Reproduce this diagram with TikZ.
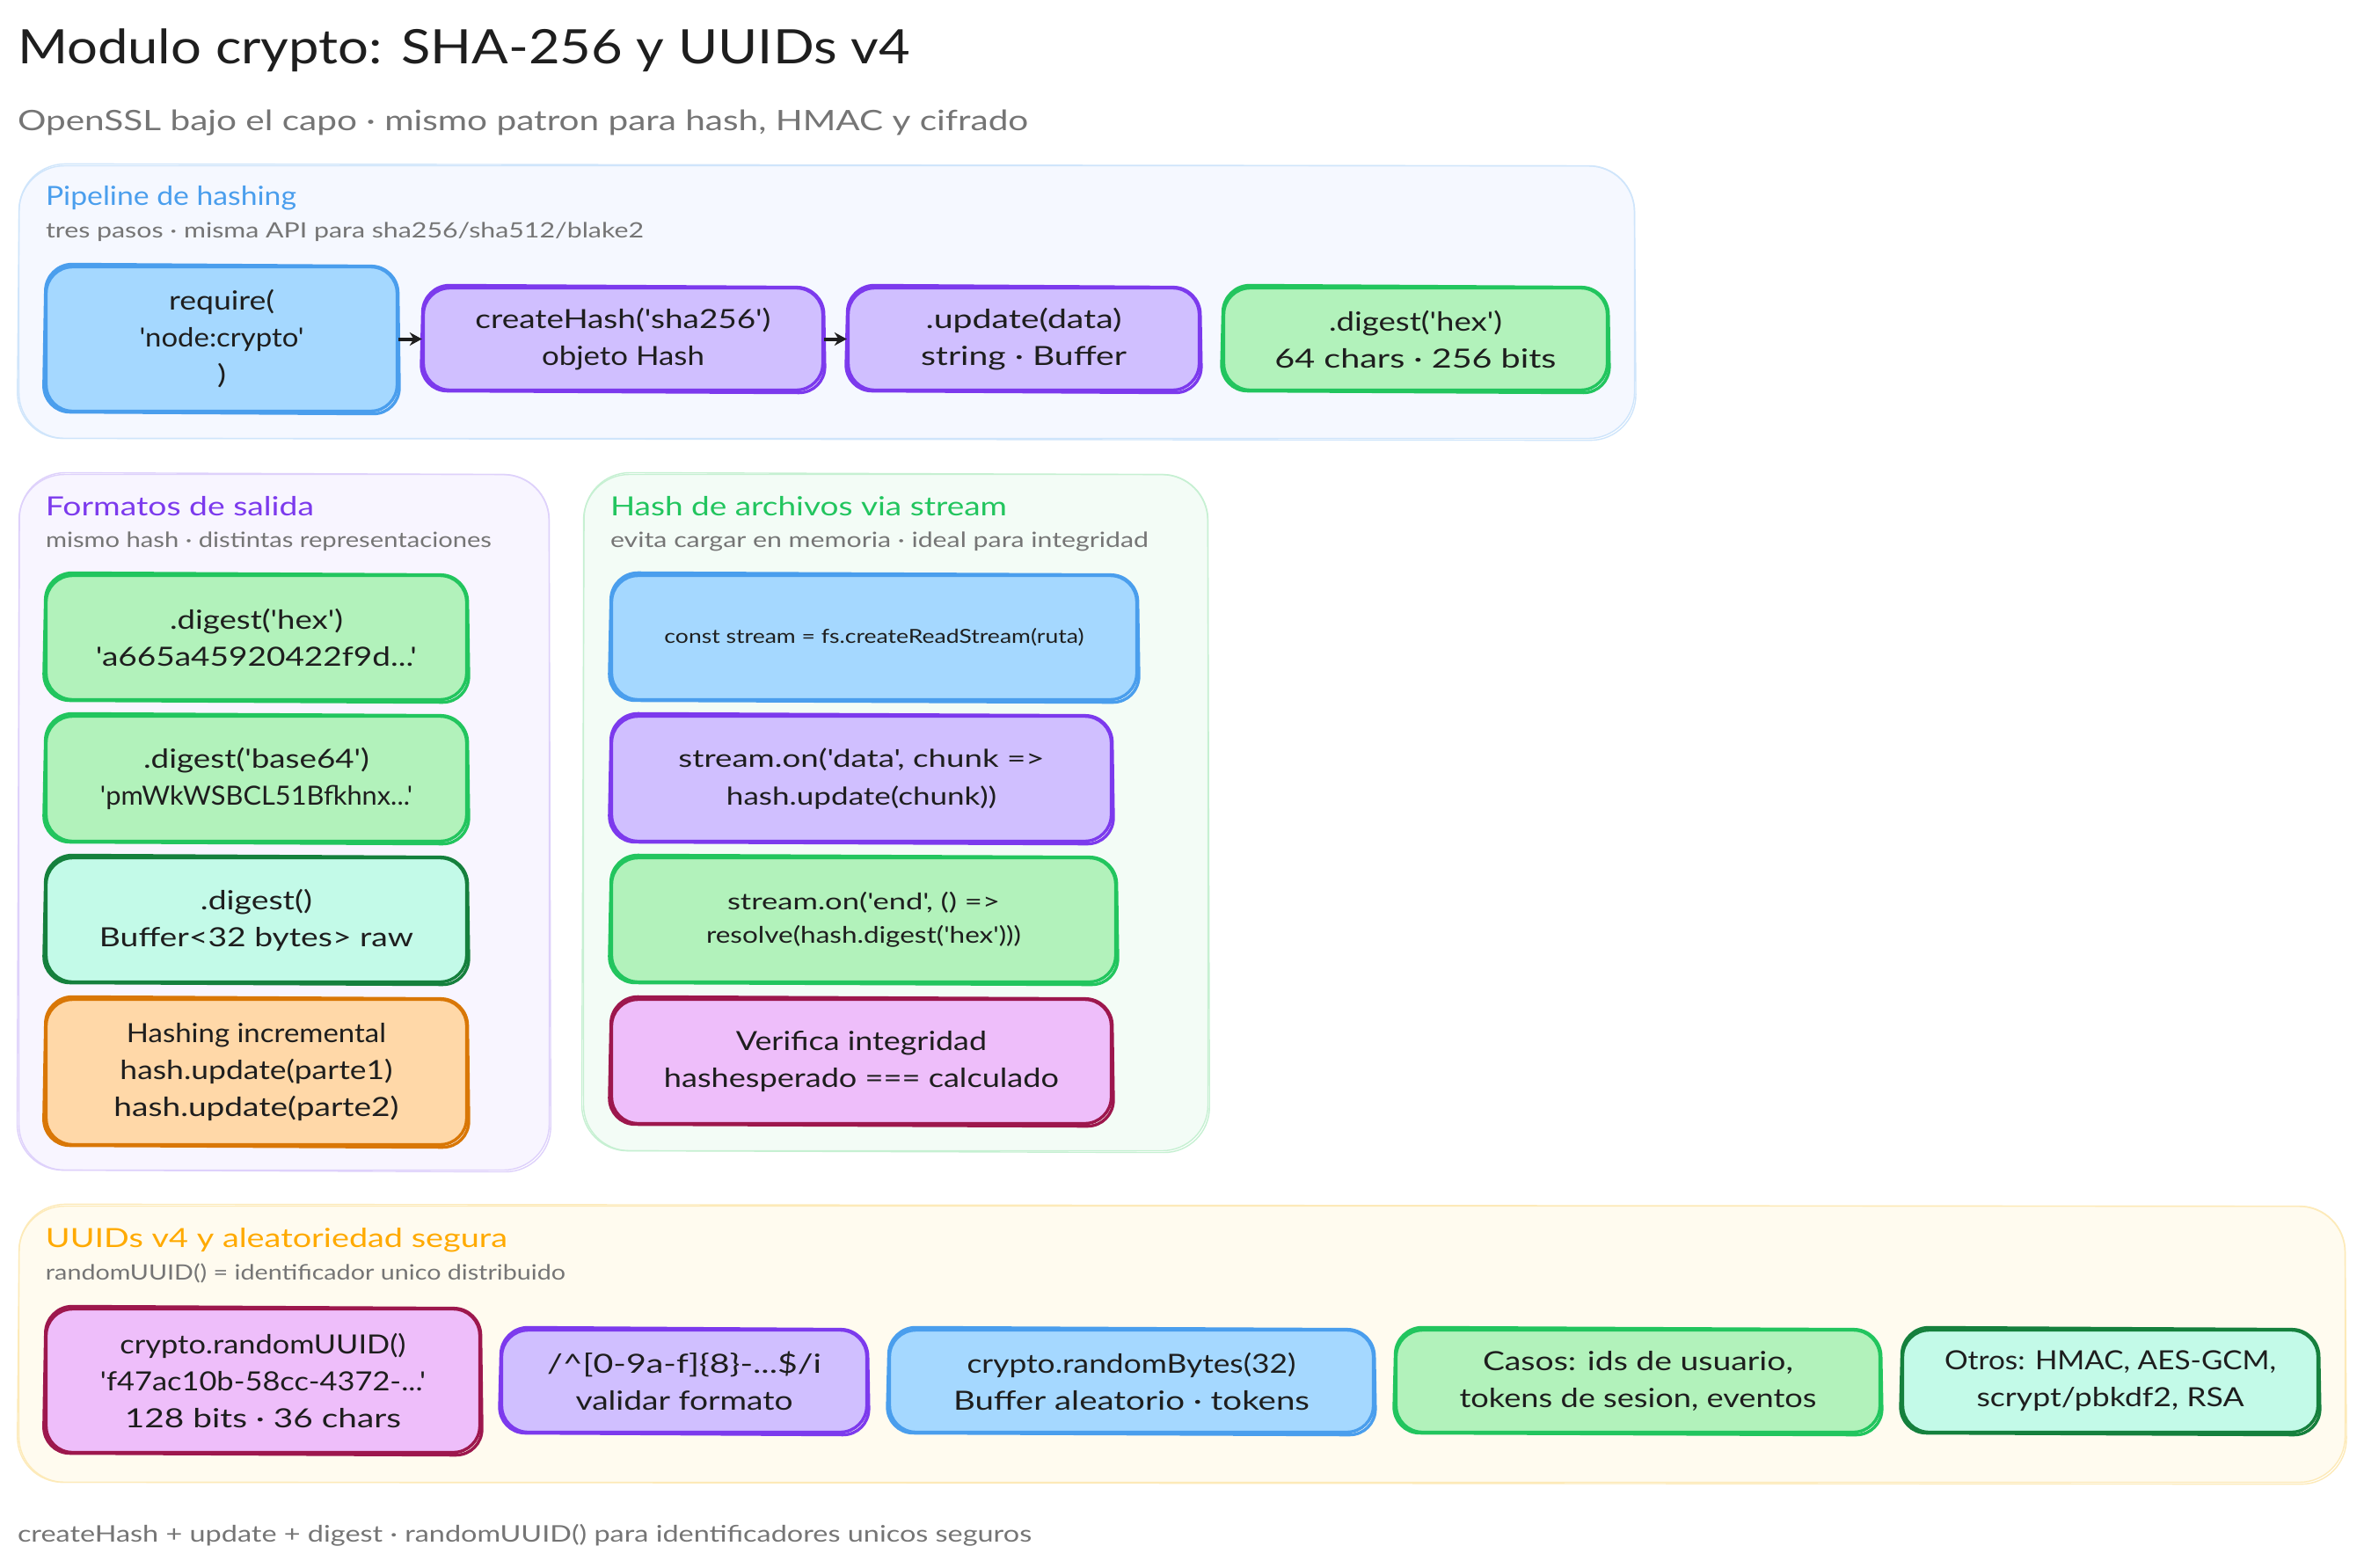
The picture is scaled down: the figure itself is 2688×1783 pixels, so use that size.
\documentclass[tikz,border=0pt]{standalone}
\usepackage{fontspec}
\usepackage{graphicx}
\setmainfont{Lato}[Ligatures=TeXOff]
\usetikzlibrary{arrows.meta}
\newdimen\pxu \pxu=0.5pt
\newcommand\fw[2]{\resizebox{#1\pxu}{\height}{#2}}
\definecolor{ink}{HTML}{1E1E1E}
\definecolor{muted}{HTML}{757575}
\definecolor{cblue}{HTML}{4A9EED}
\definecolor{cviolet}{HTML}{7C3AED}
\definecolor{cgreen}{HTML}{22C55E}
\definecolor{camber}{HTML}{FFAA00}
\tikzset{
  tA/.style={font=\fontsize{15}{21}\selectfont},
  tB/.style={font=\fontsize{14}{21.5}\selectfont},
  tC/.style={font=\fontsize{13}{19}\selectfont},
  tD/.style={font=\fontsize{11}{14}\selectfont},
  boxbase/.style={rounded corners=15pt,line width=1.7pt,inner sep=0pt,align=center,text=ink,tA},
  fb/.style={boxbase,draw=cblue,fill={rgb,255:red,165;green,216;blue,255}},
  fv/.style={boxbase,draw=cviolet,fill={rgb,255:red,208;green,191;blue,255}},
  fg/.style={boxbase,draw=cgreen,fill={rgb,255:red,178;green,242;blue,187}},
  ft/.style={boxbase,draw={rgb,255:red,21;green,128;blue,61},fill={rgb,255:red,195;green,250;blue,232}},
  fo/.style={boxbase,draw={rgb,255:red,217;green,119;blue,6},fill={rgb,255:red,255;green,216;blue,168}},
  fp/.style={boxbase,draw={rgb,255:red,157;green,23;blue,77},fill={rgb,255:red,238;green,190;blue,250}},
  groupbase/.style={rounded corners=26pt,line width=0.7pt,inner sep=0pt},
  gb/.style={groupbase,draw={rgb,255:red,207;green,229;blue,251},fill={rgb,255:red,245;green,248;blue,255}},
  gv/.style={groupbase,draw={rgb,255:red,222;green,209;blue,251},fill={rgb,255:red,248;green,245;blue,255}},
  gg/.style={groupbase,draw={rgb,255:red,198;green,240;blue,210},fill={rgb,255:red,243;green,252;blue,246}},
  ga/.style={groupbase,draw={rgb,255:red,253;green,234;blue,184},fill={rgb,255:red,255;green,251;blue,239}},
  lbl/.style={anchor=base west,inner sep=0pt,outer sep=0pt},
  flow/.style={draw=ink,line width=2pt,-{Stealth[length=7pt,width=7.5pt]}},
  mainT/.style={lbl,text=ink,font=\fontsize{27}{32}\selectfont},
  subT/.style={lbl,text=muted,font=\fontsize{16}{20}\selectfont},
  grpT/.style={lbl,font=\fontsize{15}{18}\selectfont},
  grpS/.style={lbl,text=muted,font=\fontsize{12}{15}\selectfont},
  footT/.style={lbl,text=muted,font=\fontsize{13}{16}\selectfont},
}
% name, style, x1, y1, x2, y2, content
\newcommand\bx[7]{%
  \node[#2,minimum width={(#5-#3-3)*0.5pt},minimum height={(#6-#4-3)*0.5pt}] (#1) at ({(#3+#5)/2},{(#4+#6)/2}) {#7};
  \draw[#2,fill=none] ([shift={(1.5,-1.5)}]#1.north west) -- ([shift={(-1,1)}]#1.north east) -- ([shift={(1.2,1.5)}]#1.south east) -- ([shift={(-1.5,-0.8)}]#1.south west) -- cycle;
}
\begin{document}
\begin{tikzpicture}[x=0.5pt,y=-0.5pt]
\useasboundingbox[fill=white] (0,0) rectangle (2688,1783);

\node[mainT] (title) at (20,72) {\fw{1015}{Modulo crypto: SHA-256 y UUIDs v4}};
\node[subT] (subtitle) at (20,148) {\fw{1149}{OpenSSL bajo el capo · mismo patron para hash, HMAC y cifrado}};

% Pipeline
\bx{gpipe}{gb}{20}{187}{1860}{500}{}
\node[grpT,text=cblue] (tpipe) at (52,233) {\fw{285}{Pipeline de hashing}};
\node[grpS] (spipe) at (52,270) {\fw{680}{tres pasos · misma API para sha256/sha512/blake2}};
\bx{req}{fb}{51}{302}{453}{469}{\fw{120}{require(}\\\fw{187}{'node:crypto'}\\\fw{10}{)}}
\bx{chash}{fv}{480}{326}{937}{445}{\fw{336}{createHash('sha256')}\\\fw{185}{objeto Hash}}
\bx{upd}{fv}{963}{326}{1365}{445}{\fw{223}{.update(data)}\\\fw{234}{string · Buffer}}
\bx{dig}{fg}{1390}{326}{1829}{445}{\fw{197}{.digest('hex')}\\\fw{320}{64 chars · 256 bits}}
\draw[flow] (req.east) -- (chash.west);
\draw[flow] (chash.east) -- (upd.west);

% Formatos
\bx{gfmt}{gv}{20}{538}{626}{1332}{}
\node[grpT,text=cviolet] (tfmt) at (52,586) {\fw{305}{Formatos de salida}};
\node[grpS] (sfmt) at (52,622) {\fw{507}{mismo hash · distintas representaciones}};
\bx{f1}{fg}{51}{653}{532}{797}{\fw{197}{.digest('hex')}\\\fw{365}{'a665a45920422f9d...'}}
\bx{f2}{fg}{51}{813}{532}{958}{\fw{257}{.digest('base64')}\\\fw{355}{'pmWkWSBCL51Bfkhnx...'}}
\bx{f3}{ft}{51}{974}{532}{1118}{\fw{127}{.digest()}\\\fw{357}{Buffer<32 bytes> raw}}
\bx{f4}{fo}{51}{1135}{532}{1303}{\fw{295}{Hashing incremental}\\\fw{310}{hash.update(parte1)}\\\fw{324}{hash.update(parte2)}}

% Hash de archivos
\bx{gstr}{gg}{662}{538}{1375}{1310}{}
\node[grpT,text=cgreen] (tstr) at (694,586) {\fw{451}{Hash de archivos via stream}};
\node[grpS] (sstr) at (694,622) {\fw{612}{evita cargar en memoria · ideal para integridad}};
\bx{s1}{fb,tD}{694}{653}{1294}{797}{\fw{477}{const stream = fs.createReadStream(ruta)}}
\bx{s2}{fv,tB}{694}{813}{1265}{958}{\fw{416}{stream.on('data', chunk =>}\\\fw{307}{hash.update(chunk))}}
\bx{s3}{fg,tC}{694}{974}{1270}{1118}{\fw{310}{stream.on('end', () =>}\\\fw{358}{resolve(hash.digest('hex')))}}
\bx{s4}{fp}{694}{1135}{1265}{1279}{\fw{285}{Verifica integridad}\\\fw{449}{hashesperado === calculado}}

% UUIDs
\bx{guuid}{ga}{20}{1370}{2668}{1687}{}
\node[grpT,text=camber] (tuuid) at (52,1418) {\fw{525}{UUIDs v4 y aleatoriedad segura}};
\node[grpS] (suuid) at (52,1455) {\fw{591}{randomUUID() = identificador unico distribuido}};
\bx{u1}{fp}{51}{1487}{547}{1653}{\fw{325}{crypto.randomUUID()}\\\fw{370}{'f47ac10b-58cc-4372-...'}\\\fw{314}{128 bits · 36 chars}}
\bx{u2}{fv}{569}{1511}{987}{1630}{\fw{312}{/\textasciicircum[0-9a-f]\{8\}-...\$/i}\\\fw{247}{validar formato}}
\bx{u3}{fb}{1010}{1511}{1563}{1630}{\fw{374}{crypto.randomBytes(32)}\\\fw{405}{Buffer aleatorio · tokens}}
\bx{u4}{fg}{1586}{1511}{2139}{1630}{\fw{353}{Casos: ids de usuario,}\\\fw{406}{tokens de sesion, eventos}}
\bx{u5}{ft}{2162}{1511}{2637}{1630}{\fw{377}{Otros: HMAC, AES-GCM,}\\\fw{304}{scrypt/pbkdf2, RSA}}

\node[footT] (foot) at (20,1753) {\fw{1153}{createHash + update + digest · randomUUID() para identificadores unicos seguros}};
\end{tikzpicture}
\end{document}
